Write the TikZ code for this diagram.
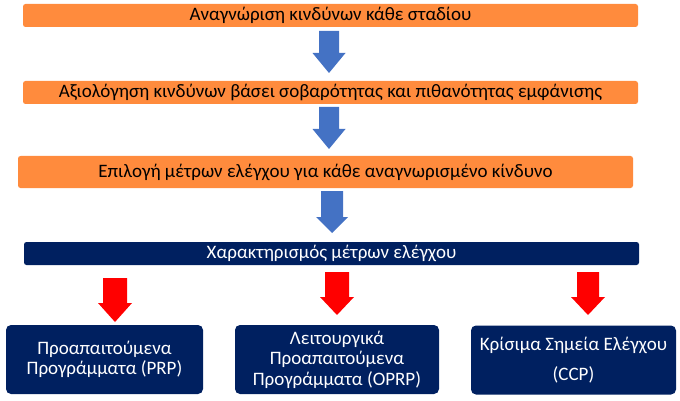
\documentclass[tikz,border=0pt]{standalone}
\usepackage{fontspec}
\setmainfont{Carlito}
\definecolor{boxorange}{HTML}{FF8B3D}
\definecolor{boxnavy}{HTML}{002060}
\definecolor{arrowblue}{HTML}{4472C4}
\definecolor{arrowred}{HTML}{FF0000}
\newcommand\fatarrowdraw[7]{%
  \fill[#1] (#2-#6,#3) -- (#2+#6,#3) -- (#2+#6,#4) -- (#2+#7,#4) -- (#2,#5) -- (#2-#7,#4) -- (#2-#6,#4) -- cycle;}
\begin{document}
\begin{tikzpicture}[x=1pt,y=-1pt,
  stagebox/.style={fill=boxorange, rounded corners=2.5pt, inner sep=0pt, minimum width=615pt, text=black, font=\fontsize{19}{22}\selectfont},
  navybar/.style={fill=boxnavy, rounded corners=2.5pt, inner sep=0pt, minimum width=615pt, minimum height=23pt, text=white, font=\fontsize{19}{22}\selectfont},
  typebox/.style={fill=boxnavy, rounded corners=5pt, inner sep=0pt, minimum height=69pt, text=white, align=center, font=\fontsize{19}{20.5}\selectfont}]
\useasboundingbox (0,0) rectangle (680,401);
\node[stagebox, minimum height=23pt] (b1) at (330.5,15.5) {Αναγνώριση κινδύνων κάθε σταδίου};
\node[stagebox, minimum height=23pt] (b2) at (330.5,92.5) {Αξιολόγηση κινδύνων βάσει σοβαρότητας και πιθανότητας εμφάνισης};
\node[stagebox, minimum height=32pt] (b3) at (325.5,172) {Επιλογή μέτρων ελέγχου για κάθε αναγνωρισμένο κίνδυνο};
\node[navybar] (b4) at (331.5,253.5) {Χαρακτηρισμός μέτρων ελέγχου};
\node[typebox, minimum width=197pt] (bA) at (104.5,359.5) {Προαπαιτούμενα\\Προγράμματα (PRP)};
\node[typebox, minimum width=204pt] (bB) at (337,359.5) {Λειτουργικά\\Προαπαιτούμενα\\Προγράμματα (OPRP)};
\node[typebox, minimum width=205pt, font=\fontsize{19}{30}\selectfont] (bC) at (573.5,360) {Κρίσιμα Σημεία Ελέγχου\\(CCP)};
\fatarrowdraw{arrowblue}{329}{31}{53}{73}{10}{16.5}
\fatarrowdraw{arrowblue}{329}{107}{129}{149}{10}{16.5}
\fatarrowdraw{arrowblue}{332}{191}{217}{233}{11}{16}
\fatarrowdraw{arrowred}{115}{278}{303}{322}{12}{17}
\fatarrowdraw{arrowred}{337}{272}{297}{315}{12}{17}
\fatarrowdraw{arrowred}{588}{272}{297}{315}{11}{17}
\end{tikzpicture}
\end{document}
